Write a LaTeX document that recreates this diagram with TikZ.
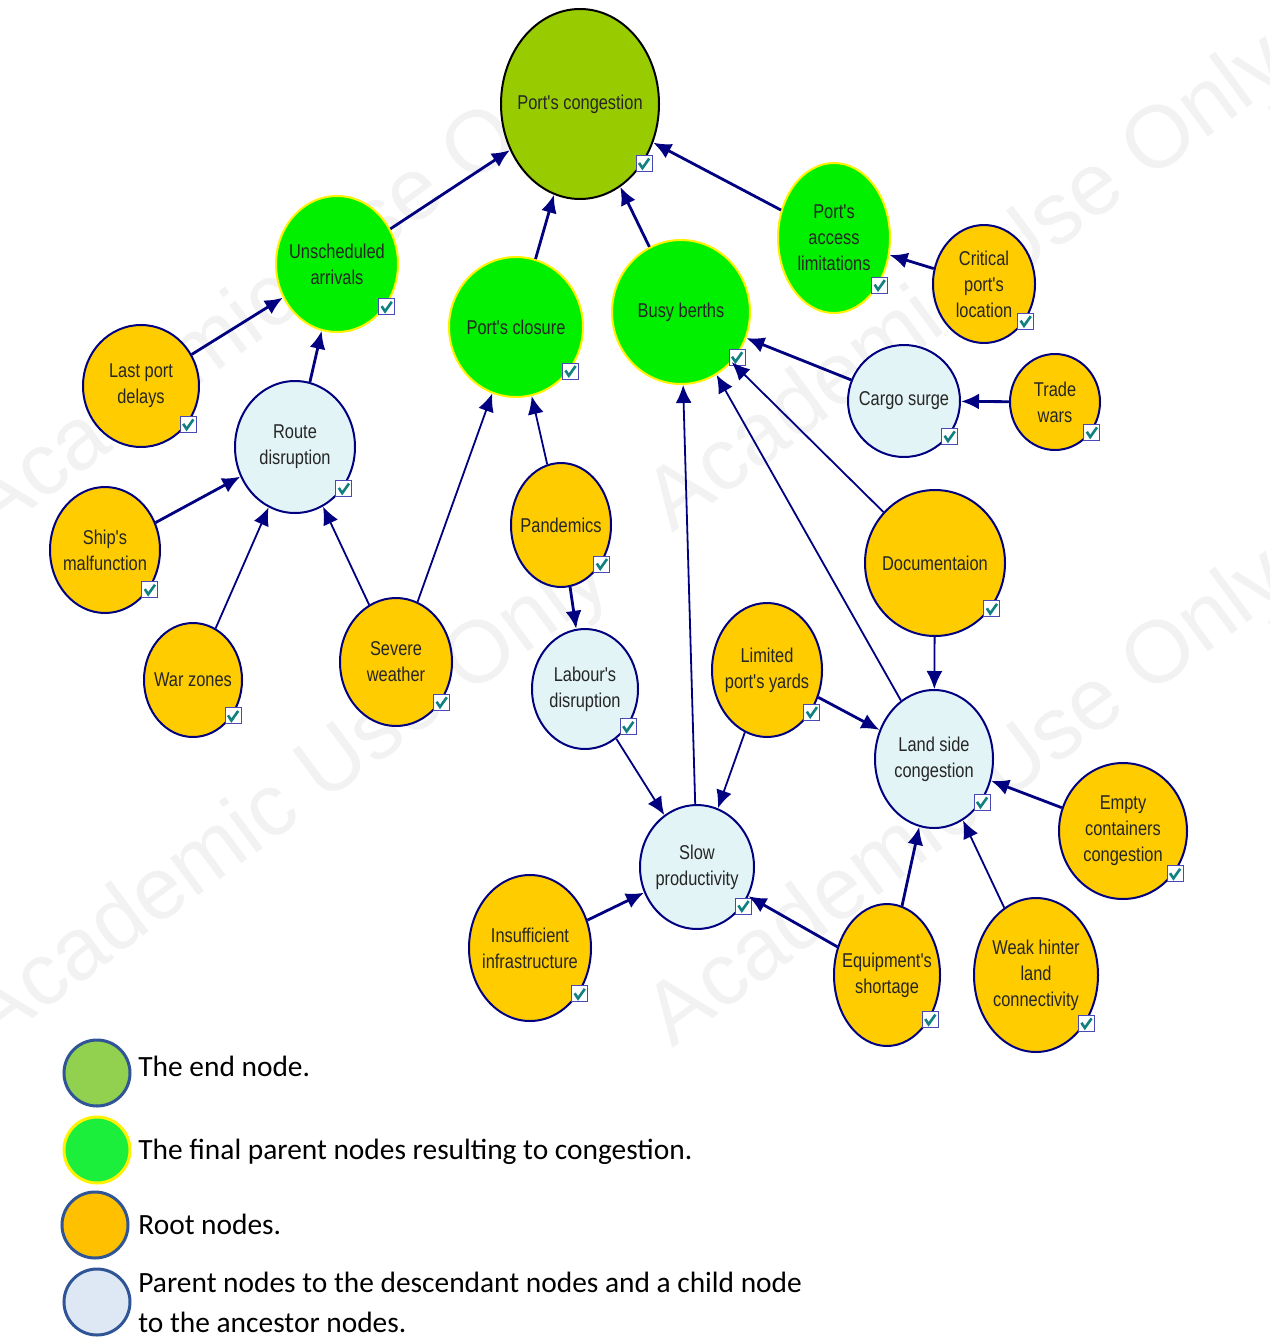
\documentclass[tikz,border=0pt]{standalone}
\usepackage{fontspec}
\setmainfont{Carlito}
\newfontfamily\nodefont[FakeStretch=0.82]{Liberation Sans}
\newfontfamily\markfont{Liberation Sans}
\usetikzlibrary{shapes.geometric, arrows.meta, calc}

\definecolor{endgreen}{HTML}{99CC00}
\definecolor{finalgreen}{HTML}{00F000}
\definecolor{rootorange}{HTML}{FFCC00}
\definecolor{parentblue}{HTML}{E3F4F6}
\definecolor{navy}{HTML}{000080}
\definecolor{tickblue}{HTML}{4848B8}
\definecolor{tickteal}{HTML}{118080}
\definecolor{lgEndFill}{HTML}{92D050}
\definecolor{lgFinalFill}{HTML}{1CEE3C}
\definecolor{lgRootFill}{HTML}{FFC000}
\definecolor{lgParentFill}{HTML}{DEE8F4}
\definecolor{lgLine}{HTML}{2F5597}

% little check box at the lower right of a node
\newcommand{\nodetick}[1]{%
  \coordinate (#1-tx) at ($(#1.center)!0.8!(#1.east)$);
  \coordinate (#1-ty) at ($(#1.center)!0.62!(#1.south)$);
  \coordinate (#1-tick) at (#1-tx |- #1-ty);
  \node[tickbox] at (#1-tick) {};
  \draw[tickmark] ([shift={(-2.5pt,0.3pt)}]#1-tick) -- ([shift={(-0.8pt,-2.3pt)}]#1-tick)
    -- ([shift={(2.6pt,2.5pt)}]#1-tick);
}

\begin{document}
\begin{tikzpicture}[
    x=0.5pt, y=-0.5pt,
    every node/.style={inner sep=0pt, align=center},
    net/.style={ellipse, line width=1pt, text=black!85, inner xsep=-12pt, inner ysep=-8pt,
        font=\nodefont\fontsize{10}{13}\selectfont},
    endnode/.style={net, draw=black, fill=endgreen},
    finalnode/.style={net, draw=yellow, fill=finalgreen},
    rootnode/.style={net, draw=navy, fill=rootorange},
    parentnode/.style={net, draw=navy, fill=parentblue},
    arrow/.style={-{Latex[length=9pt,width=8pt]}, navy, line width=1.4pt},
    thinarrow/.style={-{Latex[length=9pt,width=8pt]}, navy, line width=0.9pt},
    tickbox/.style={rectangle, draw=tickblue, fill=white, line width=0.5pt, minimum size=8pt},
    tickmark/.style={tickteal, line width=1.3pt},
    legend/.style={circle, line width=1.5pt, draw=lgLine, minimum size=33pt},
    legendtext/.style={anchor=base west, font=\fontsize{14.7}{20}\selectfont},
    watermark/.style={text=black!5, rotate=36.5, font=\markfont\fontsize{44}{44}\selectfont}
]
    \useasboundingbox (0,0) rectangle (1269,1338);
    \clip (0,0) rectangle (1269,1338);

    % watermark
    \foreach \wx/\wy in {290/290, 970/285, 290/800, 970/800}
        \node[watermark] at (\wx,\wy) {Academic Use Only};

    % end node and final parents
    \node[endnode, minimum width=79pt, minimum height=95pt] (congestion) at (580,104) {Port's congestion};
    \node[finalnode, minimum width=61pt, minimum height=68pt] (unscheduled) at (337,264) {Unscheduled\\arrivals};
    \node[finalnode, minimum width=67pt, minimum height=70pt] (closure) at (516,327) {Port's closure};
    \node[finalnode, minimum width=69pt, minimum height=72pt] (berths) at (681,312) {Busy berths};
    \node[finalnode, minimum width=56pt, minimum height=75pt] (access) at (834,238) {Port's\\access\\limitations};

    % parent nodes
    \node[parentnode, minimum width=60pt, minimum height=66pt] (route) at (295,447) {Route\\disruption};
    \node[parentnode, minimum width=56pt, minimum height=56pt] (cargo) at (904,401) {Cargo surge};
    \node[parentnode, minimum width=53pt, minimum height=60pt] (labour) at (585,689) {Labour's\\disruption};
    \node[parentnode, minimum width=59pt, minimum height=69pt] (landside) at (934,759) {Land side\\congestion};
    \node[parentnode, minimum width=57pt, minimum height=62pt] (slow) at (697,867) {Slow\\productivity};

    % root nodes
    \node[rootnode, minimum width=51pt, minimum height=59pt] (critical) at (984,284) {Critical\\port's\\location};
    \node[rootnode, minimum width=58pt, minimum height=61pt] (lastport) at (141,386) {Last port\\delays};
    \node[rootnode, minimum width=45pt, minimum height=48pt] (trade) at (1055,402) {Trade\\wars};
    \node[rootnode, minimum width=55pt, minimum height=63pt] (ship) at (105,550) {Ship's\\malfunction};
    \node[rootnode, minimum width=50pt, minimum height=62pt] (pandemics) at (561,525) {Pandemics};
    \node[rootnode, minimum width=70pt, minimum height=73pt] (docs) at (935,563) {Documentaion};
    \node[rootnode, minimum width=49pt, minimum height=57pt] (war) at (193,680) {War zones};
    \node[rootnode, minimum width=56pt, minimum height=64pt] (weather) at (396,662) {Severe\\weather};
    \node[rootnode, minimum width=55pt, minimum height=67pt] (yards) at (767,670) {Limited\\port's yards};
    \node[rootnode, minimum width=64pt, minimum height=68pt] (empty) at (1123,831) {Empty\\containers\\congestion};
    \node[rootnode, minimum width=61pt, minimum height=73pt] (infra) at (530,948) {Insufficient\\infrastructure};
    \node[rootnode, minimum width=53pt, minimum height=71pt] (equip) at (887,975) {Equipment's\\shortage};
    \node[rootnode, minimum width=62pt, minimum height=77pt] (weak) at (1036,975) {Weak hinter\\land\\connectivity};

    % check boxes
    \foreach \nd in {congestion, unscheduled, closure, berths, access, route, cargo, labour,
        landside, slow, critical, lastport, trade, ship, pandemics, docs, war, weather,
        yards, empty, infra, equip, weak}
        {\nodetick{\nd}}

    % links
    \draw[arrow] (unscheduled) -- (congestion);
    \draw[arrow] (closure) -- (congestion);
    \draw[arrow] (berths) -- (congestion);
    \draw[arrow] (access) -- (congestion);
    \draw[arrow] (critical) -- (access);
    \draw[arrow] (lastport) -- (unscheduled);
    \draw[arrow] (route) -- (unscheduled);
    \draw[arrow] (ship) -- (route);
    \draw[thinarrow] (war) -- (route);
    \draw[thinarrow] (weather) -- (route);
    \draw[thinarrow] (weather) -- (closure);
    \draw[thinarrow] (pandemics) -- (closure);
    \draw[arrow] (pandemics) -- (labour);
    \draw[thinarrow] (labour) -- (slow);
    \draw[thinarrow] (slow) -- (berths);
    \draw[arrow] (cargo) -- (berths);
    \draw[arrow] (trade) -- (cargo);
    \draw[thinarrow] (docs) -- (berths);
    \draw[thinarrow] (docs) -- (landside);
    \draw[thinarrow] (landside) -- (berths);
    \draw[arrow] (yards) -- (landside);
    \draw[thinarrow] (yards) -- (slow);
    \draw[arrow] (empty) -- (landside);
    \draw[thinarrow] (weak) -- (landside);
    \draw[arrow] (equip) -- (landside);
    \draw[arrow] (equip) -- (slow);
    \draw[arrow] (infra) -- (slow);

    % legend
    \node[legend, fill=lgEndFill] (lgEnd) at (97,1073) {};
    \node[legend, fill=lgFinalFill, draw=yellow] (lgFinal) at (97,1150) {};
    \node[legend, fill=lgRootFill] (lgRoot) at (95,1225) {};
    \node[legend, fill=lgParentFill] (lgParent) at (97,1302) {};
    \node[legendtext] (txEnd) at (138,1076) {The end node.};
    \node[legendtext] (txFinal) at (138,1159) {The final parent nodes resulting to congestion.};
    \node[legendtext] (txRoot) at (138,1234) {Root nodes.};
    \node[legendtext] (txParent) at (138,1292) {Parent nodes to the descendant nodes and a child node};
    \node[legendtext] (txParentB) at (138,1332) {to the ancestor nodes.};
\end{tikzpicture}
\end{document}
